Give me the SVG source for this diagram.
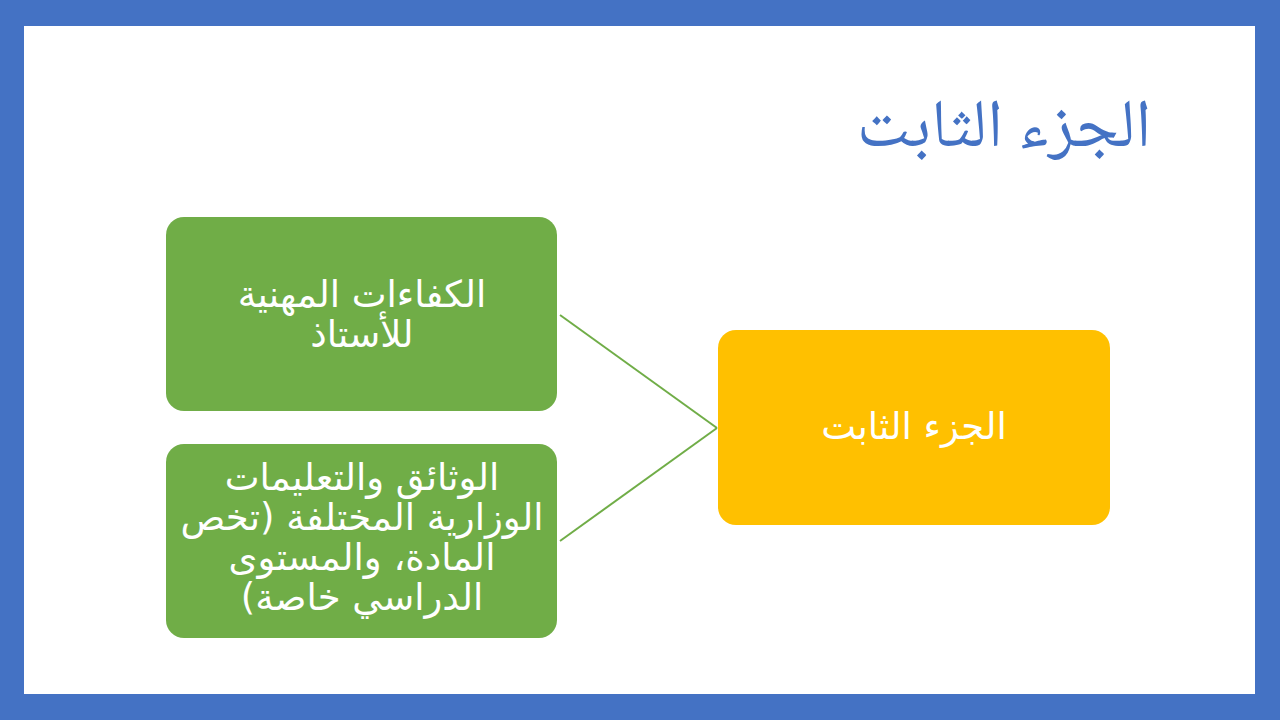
<svg xmlns="http://www.w3.org/2000/svg" width="1280" height="720" viewBox="0 0 1280 720">
<style>
.box text{font-family:"DejaVu Sans","Noto Sans",sans-serif;font-size:37px;fill:#fff;text-anchor:middle;direction:rtl}
.green{fill:#70AD47}
.yellow{fill:#FFC000}
.conn line{stroke:#70AD47;stroke-width:2}
.title{font-family:"Noto Naskh Arabic","DejaVu Serif","DejaVu Sans",serif;font-size:68px;fill:#4472C4;text-anchor:middle;direction:rtl}
</style>
<rect x="0" y="0" width="1280" height="720" fill="#4472C4"/>
<rect x="24" y="26" width="1231" height="668" fill="#fff"/>
<g id="title"><text class="title" x="1004" y="146">الجزء الثابت</text></g>
<g id="conn" class="conn">
<line x1="560" y1="315" x2="717" y2="428"/>
<line x1="560" y1="541" x2="717" y2="428"/>
</g>
<g id="n1" class="box">
<rect class="green" x="166" y="217" width="391" height="194" rx="18"/>
<text x="362" y="307">الكفاءات المهنية</text>
<text x="362" y="347">للأستاذ</text>
</g>
<g id="n2" class="box">
<rect class="green" x="166" y="444" width="391" height="194" rx="18"/>
<text x="362" y="490">الوثائق والتعليمات</text>
<text x="362" y="530">الوزارية المختلفة (تخص</text>
<text x="362" y="570">المادة، والمستوى</text>
<text x="362" y="610">الدراسي خاصة)</text>
</g>
<g id="n3" class="box">
<rect class="yellow" x="718" y="330" width="392" height="195" rx="18"/>
<text x="914" y="439">الجزء الثابت</text>
</g>
</svg>
